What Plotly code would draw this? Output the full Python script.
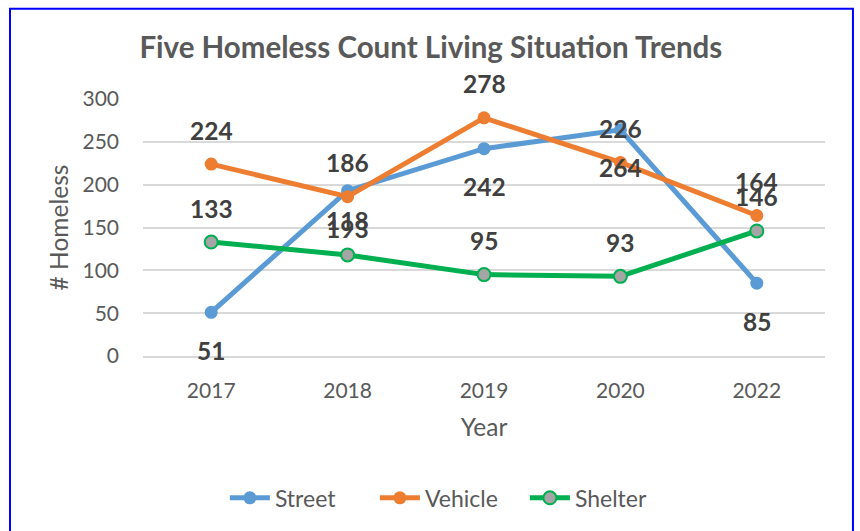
import plotly.graph_objects as go

years = ["2017", "2018", "2019", "2020", "2022"]
street = [51, 193, 242, 264, 85]
vehicle = [224, 186, 278, 226, 164]
shelter = [133, 118, 95, 93, 146]
y_ticks = [0, 50, 100, 150, 200, 250, 300]

FONT = "Lato"
fig = go.Figure()

fig.add_trace(go.Scatter(x=years, y=street, name="Street", mode="lines+markers",
                         line=dict(color="#5B9BD5", width=5),
                         marker=dict(size=13, color="#5B9BD5")))
fig.add_trace(go.Scatter(x=years, y=vehicle, name="Vehicle", mode="lines+markers",
                         line=dict(color="#ED7D31", width=5),
                         marker=dict(size=13, color="#ED7D31")))
fig.add_trace(go.Scatter(x=years, y=shelter, name="Shelter", mode="lines+markers",
                         line=dict(color="#00B050", width=5),
                         marker=dict(size=13, color="#A5A5A5", line=dict(color="#00B050", width=2))))

annotations = []
for series, shift in ((street, -38), (vehicle, 34), (shelter, 34)):
    for i, v in enumerate(series):
        # category axis: position by category index
        annotations.append(dict(x=i, y=v, xref="x", yref="y", text="<b>" + str(v) + "</b>",
                                showarrow=False, yshift=shift,
                                font=dict(family=FONT, size=24.5, color="#404040")))

fig.add_shape(type="rect", xref="paper", yref="paper",
              x0=-0.195, x1=1.041, y0=-0.70, y1=1.351,
              line=dict(color="#0000FF", width=2), layer="above")

fig.update_layout(
    width=860, height=531,
    margin=dict(l=143, r=35, t=99, b=173),
    paper_bgcolor="white", plot_bgcolor="white",
    font=dict(family=FONT, color="#595959"),
    annotations=annotations,
    title=dict(text="<b>Five Homeless Count Living Situation Trends</b>",
               x=0.501, xanchor="center", y=0.911, yanchor="middle",
               font=dict(family=FONT, size=29.5, color="#595959")),
    xaxis=dict(type="category", range=[-0.5, 4.5], showgrid=False,
               showline=True, linecolor="#D9D9D9", linewidth=1.5,
               ticks="", tickfont=dict(size=21, color="#595959"),
               ticklabelstandoff=15,
               title=dict(text="Year", font=dict(size=24.5, color="#595959"), standoff=18)),
    yaxis=dict(range=[0, 300], tickvals=y_ticks, showgrid=True,
               gridcolor="#D9D9D9", gridwidth=1.5, zeroline=False,
               ticks="", tickfont=dict(size=21, color="#595959"),
               ticklabelstandoff=23,
               title=dict(text="# Homeless", font=dict(size=24.5, color="#595959"), standoff=6)),
    legend=dict(orientation="h", x=0.45, xanchor="center", y=-0.552, yanchor="middle",
                font=dict(size=23, color="#595959"), itemwidth=40,
                entrywidth=95, entrywidthmode="pixels"),
    showlegend=True,
)

fig.write_html("out.html", post_script="document.body.style.margin='0';",
               config={"displayModeBar": False})
